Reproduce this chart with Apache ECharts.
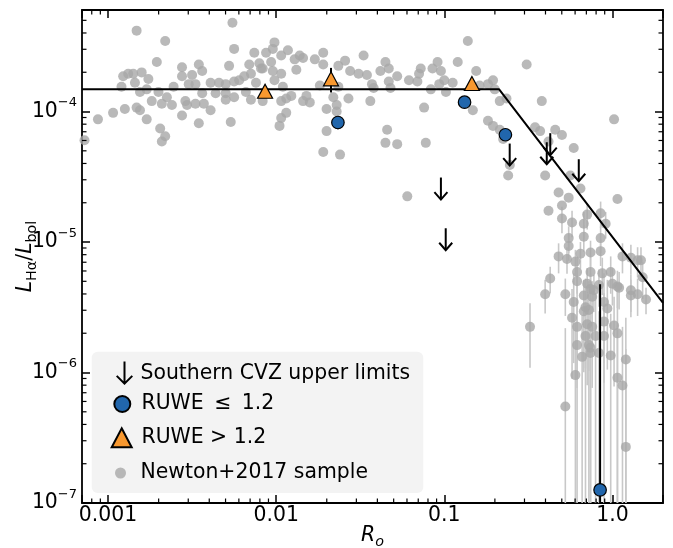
<!DOCTYPE html>
<html><head><meta charset="utf-8">
<script src="https://cdn.jsdelivr.net/npm/echarts@6/dist/echarts.min.js"></script>
<style>html,body{margin:0;padding:0;background:#fff}#c{width:673px;height:548px}</style>
</head><body><div id="c"></div>
<script>
// ---------------- DATA ----------------
// axis ticks
const xTickValues = [0.001, 0.01, 0.1, 1];
const xTickLabels = ['0.001', '0.01', '0.1', '1.0'];
const yTickValues = [1e-7, 1e-6, 1e-5, 1e-4];
const yTickExponents = ['\u22127', '\u22126', '\u22125', '\u22124'];
const xMinorTicks = [8e-4, 9e-4, 0.002, 0.003, 0.004, 0.005, 0.006, 0.007, 0.008, 0.009,
  0.02, 0.03, 0.04, 0.05, 0.06, 0.07, 0.08, 0.09, 0.2, 0.3, 0.4, 0.5, 0.6, 0.7, 0.8, 0.9];
const yMinorTicks = [2e-7, 3e-7, 4e-7, 5e-7, 6e-7, 7e-7, 8e-7, 9e-7,
  2e-6, 3e-6, 4e-6, 5e-6, 6e-6, 7e-6, 8e-6, 9e-6,
  2e-5, 3e-5, 4e-5, 5e-5, 6e-5, 7e-5, 8e-5, 9e-5,
  2e-4, 3e-4, 4e-4, 5e-4];

// Newton+2017 sample (log10 values), points without visible error bars
const newtonLogRo = [
  -2.83,-2.26,-2.66,-2.25,-2.13,-2.71,-2.56,-2.46,-2.28,-2.16,
  -2.91,-2.88,-2.85,-2.80,-2.76,-2.56,-2.50,-2.44,-2.84,-2.92,
  -2.81,-2.77,-2.70,-2.61,-2.52,-2.48,-2.39,-2.34,-2.30,-2.25,
  -2.22,-2.19,-2.15,-2.12,-2.09,-2.10,-2.65,-2.68,-2.62,-2.74,
  -2.54,-2.53,-2.48,-2.44,-2.43,-2.39,-2.36,-2.30,-2.30,-2.25,
  -2.18,-2.15,-2.90,-2.83,-2.81,-2.97,-3.06,-2.77,-2.56,-2.46,
  -2.27,-2.69,-2.66,-2.68,-3.14,
  -2.01,-1.93,-2.02,-2.06,-1.97,-1.86,-1.84,-1.89,-1.77,-1.72,
  -1.48,-2.03,-2.08,-2.02,-1.97,-1.88,-1.72,-1.63,-1.59,-1.56,
  -1.51,-1.46,-1.35,-1.38,-1.33,-1.28,-1.14,-1.15,-1.07,-2.01,
  -1.96,-1.74,-1.63,-1.43,-1.42,-1.33,-1.32,-1.21,-1.16,-1.08,
  -2.08,-1.97,-1.94,-1.91,-1.82,-1.80,-1.84,-1.66,-1.64,-1.57,
  -1.44,-1.70,-1.64,-1.97,-1.94,-1.98,-1.12,-1.70,-1.34,-1.35,
  -1.28,-1.11,-1.72,-1.62,
  -0.86,-0.92,-1.04,-1.02,-0.81,-0.51,-1.00,-0.95,-1.03,-0.79,
  -0.74,-0.71,-0.99,-0.70,-0.67,-0.63,-0.83,-0.42,-0.74,-0.71,
  -0.67,-0.65,-0.46,-0.43,-0.34,-0.30,-0.38,-0.23, 0.01,-0.61,
  -0.62,-0.40,-0.25,-0.19,-0.32,-0.26, 0.03,-0.30,-0.38,-1.22
];
const newtonLogLum = [
  -3.38,-3.32,-3.46,-3.52,-3.55,-3.62,-3.66,-3.64,-3.65,-3.64,
  -3.73,-3.71,-3.71,-3.70,-3.75,-3.73,-3.72,-3.69,-3.78,-3.81,
  -3.85,-3.83,-3.85,-3.81,-3.79,-3.79,-3.78,-3.78,-3.79,-3.77,
  -3.76,-3.73,-3.71,-3.78,-3.67,-3.63,-3.89,-3.94,-3.95,-3.92,
  -3.92,-3.95,-3.94,-3.86,-3.94,-3.99,-3.86,-3.86,-3.91,-3.89,
  -3.85,-3.91,-3.98,-3.97,-3.99,-4.01,-4.06,-4.06,-4.03,-4.09,
  -4.08,-4.13,-4.19,-4.23,-4.22,
  -3.47,-3.53,-3.52,-3.55,-3.57,-3.57,-3.59,-3.60,-3.60,-3.55,
  -3.57,-3.62,-3.67,-3.69,-3.71,-3.68,-3.64,-3.65,-3.61,-3.69,
  -3.71,-3.72,-3.62,-3.69,-3.67,-3.73,-3.67,-3.71,-3.67,-3.76,
  -3.81,-3.80,-3.81,-3.79,-3.82,-3.77,-3.82,-3.76,-3.77,-3.83,
  -3.92,-3.92,-3.90,-3.88,-3.88,-3.93,-3.92,-3.89,-3.95,-3.90,
  -3.92,-3.98,-4.00,-4.05,-4.01,-4.11,-3.97,-4.15,-4.14,-4.24,
  -4.25,-4.24,-4.31,-4.33,
  -3.46,-3.62,-3.62,-3.69,-3.69,-3.64,-3.76,-3.78,-3.79,-3.80,
  -3.79,-3.76,-3.85,-3.83,-3.92,-3.90,-3.99,-3.92,-4.07,-4.11,
  -4.14,-4.21,-4.12,-4.15,-4.14,-4.18,-4.23,-4.28,-4.06,-4.41,
  -4.49,-4.49,-4.49,-4.59,-4.62,-4.66,-4.67,-4.72,-4.76,-4.65
];
// Newton+2017 sample points with visible error bars (log10 values; hi = upper end of the bar)
const newtonBarLogRo = [
  -0.30,-0.24,-0.15,-0.07,-0.17,-0.04,-0.26,-0.17,-0.07,-0.26,
  -0.07,-0.19,-0.13,-0.32,-0.27,-0.22, 0.06, 0.11, 0.15, 0.17,
  -0.21,-0.13,-0.06,-0.01, 0.18,-0.37,-0.21,-0.15,-0.08, 0.00,
   0.03, 0.04,-0.13,-0.11, 0.11,-0.40,-0.28,-0.17,-0.12, 0.11,
   0.15, 0.20,-0.23,-0.05,-0.16,-0.14,-0.17,-0.03,-0.24,-0.49,
  -0.21,-0.15,-0.12,-0.05, 0.01, 0.03,-0.16,-0.10,-0.05,-0.21,
  -0.14,-0.13,-0.18,-0.13,-0.08,-0.01, 0.08,-0.22, 0.03, 0.06,
  -0.28, 0.08
];
const newtonBarLogLum = [
  -4.82,-4.85,-4.79,-4.78,-4.86,-4.86,-4.97,-4.96,-4.97,-5.03,
  -5.07,-5.09,-5.08,-5.11,-5.13,-5.15,-5.11,-5.12,-5.14,-5.14,
  -5.23,-5.23,-5.24,-5.23,-5.27,-5.28,-5.30,-5.32,-5.33,-5.32,
  -5.34,-5.35,-5.36,-5.37,-5.37,-5.40,-5.40,-5.41,-5.42,-5.41,
  -5.40,-5.44,-5.46,-5.46,-5.50,-5.52,-5.53,-5.51,-5.58,-5.65,
  -5.65,-5.63,-5.65,-5.61,-5.64,-5.70,-5.72,-5.72,-5.72,-5.79,
  -5.79,-5.81,-5.88,-5.85,-5.85,-5.87,-5.90,-6.02,-6.04,-6.10,
  -6.26,-6.57
];
const newtonBarLogHi = [
  -4.73,-4.76,-4.70,-4.69,-4.77,-4.77,-4.88,-4.87,-4.88,-4.94,
  -4.98,-5.00,-4.99,-5.01,-5.04,-5.06,-5.01,-5.02,-5.04,-5.04,
  -5.11,-5.11,-5.12,-5.11,-5.15,-5.19,-5.18,-5.20,-5.21,-5.20,
  -5.22,-5.23,-5.24,-5.25,-5.25,-5.29,-5.28,-5.29,-5.30,-5.29,
  -5.28,-5.35,-5.24,-5.24,-5.28,-5.30,-5.31,-5.29,-5.36,-5.47,
  -5.43,-5.41,-5.43,-5.39,-5.42,-5.38,-5.40,-5.40,-5.40,-5.47,
  -5.47,-5.49,-5.56,-5.53,-5.53,-5.55,-5.58,-5.62,-5.64,-5.65,
  -5.66,-5.82
];

// Southern CVZ sample
const blueRo = [0.0233, 0.132, 0.231, 0.845];
const blueLum = [8.24e-5, 1.18e-4, 6.64e-5, 1.26e-7];
const blueLumHi = [9.16e-5, 1.18e-4, 7.08e-5, 4.75e-6];
const orangeRo = [0.00859, 0.0212, 0.146];
const orangeLum = [1.43e-4, 1.78e-4, 1.64e-4];
const orangeLumHi = [1.43e-4, 2.16e-4, 1.64e-4];
const limitRo = [0.0955, 0.102, 0.245, 0.407, 0.427, 0.631];
const limitLum = [2.57e-5, 1.05e-5, 4.68e-5, 4.79e-5, 5.62e-5, 3.55e-5];

// saturation / power-law relation
const fitRo = [7e-4, 0.212, 2];
const fitLum = [1.48e-4, 1.48e-4, 3.42e-6];

// ---------------- CHART ----------------
const X_MIN = 7e-4, X_MAX = 2, Y_MIN = 1e-7, Y_MAX = 6e-4;
const FONT = 'DejaVu Sans';
const FS = 20.4, FS_SMALL = 14.3, FS_SUP = 13;
const NAME_NEWTON = 'Newton+2017 sample';
const NAME_BLUE = 'RUWE \u2009\u2264\u2009 1.2';
const NAME_ORANGE = 'RUWE > 1.2';
const NAME_LIMIT = 'Southern CVZ upper limits';
const arrowPath = 'path://M75,0L95,0L95,196.8L155.9,135.9L170,150L85,235L0,150L14.1,135.9L75,196.8Z';

const pw = v => Math.pow(10, v);
const newtonPts = newtonLogRo.map((v, i) => [pw(v), pw(newtonLogLum[i])])
  .concat(newtonBarLogRo.map((v, i) => [pw(v), pw(newtonBarLogLum[i])]));
const newtonBars = newtonBarLogRo.map((v, i) => [pw(v), pw(newtonBarLogLum[i]), pw(newtonBarLogHi[i])]);
const bluePts = blueRo.map((v, i) => [v, blueLum[i]]);
const blueBars = blueRo.map((v, i) => [v, blueLum[i], blueLumHi[i]]);
const orangePts = orangeRo.map((v, i) => [v, orangeLum[i]]);
const orangeBars = orangeRo.map((v, i) => [v, orangeLum[i], orangeLumHi[i]]);
const limitPts = limitRo.map((v, i) => [v, limitLum[i]]);
const fitPts = fitRo.map((v, i) => [v, fitLum[i]]);

function near(a, b) { return Math.abs(Math.log10(a) - Math.log10(b)) < 1e-6; }
function xFmt(v) { const i = xTickValues.findIndex(t => near(t, v)); return i < 0 ? '' : xTickLabels[i]; }
function yFmt(v) { const i = yTickValues.findIndex(t => near(t, v)); return i < 0 ? '' : '{b|10}{s|' + yTickExponents[i] + '}'; }

function errRender(color, width) {
  return function (params, api) {
    const x = api.value(0), y = api.value(1), hi = api.value(2);
    if (!(hi > y)) return null;
    let lo = 2 * y - hi;
    if (!(lo > Y_MIN)) lo = Y_MIN;
    const top = Math.min(hi, Y_MAX);
    const p1 = api.coord([x, top]);
    const p2 = api.coord([x, lo]);
    return { type: 'line', shape: { x1: p1[0], y1: p1[1], x2: p2[0], y2: p2[1] },
      style: { stroke: color, lineWidth: width } };
  };
}

const axisCommon = {
  type: 'log', logBase: 10,
  axisLine: { show: true, onZero: false, lineStyle: { color: '#000', width: 1.8 } },
  axisTick: { show: true, inside: true, length: 8, lineStyle: { color: '#000', width: 1.5 } },
  minorTick: { show: false },
  splitLine: { show: false },
  minorSplitLine: { show: false }
};

const option = {
  animation: false,
  backgroundColor: '#fff',
  grid: { left: 82, top: 10, width: 581, height: 493, containLabel: false, outerBoundsMode: 'none' },
  xAxis: [
    Object.assign({}, axisCommon, {
      min: X_MIN, max: X_MAX, position: 'bottom',
      axisLabel: { formatter: xFmt, fontSize: FS, fontFamily: FONT, color: '#000', margin: 3 },
      name: '{i|R}{o|o}', nameLocation: 'middle', nameGap: 20, nameMoveOverlap: false,
      nameTextStyle: { color: '#000', fontFamily: FONT, rich: {
        i: { fontSize: FS, fontStyle: 'italic', fontFamily: FONT, color: '#000', lineHeight: 26 },
        o: { fontSize: FS_SMALL, fontStyle: 'italic', fontFamily: FONT, color: '#000', verticalAlign: 'bottom', lineHeight: 14 }
      } }
    }),
    Object.assign({}, axisCommon, {
      min: X_MIN, max: X_MAX, position: 'top', axisLabel: { show: false }
    })
  ],
  yAxis: [
    Object.assign({}, axisCommon, {
      min: Y_MIN, max: Y_MAX, position: 'left',
      axisLabel: { formatter: yFmt, margin: 5, color: '#000', rich: {
        b: { fontSize: FS, fontFamily: FONT, color: '#000', lineHeight: 30 },
        s: { fontSize: FS_SUP, fontFamily: FONT, color: '#000', verticalAlign: 'top', lineHeight: 14 }
      } },
      name: '{i|L}{s|H\u03b1}{n|/}{i|L}{s|bol}', nameLocation: 'middle', nameGap: 43, nameRotate: 90,
      nameMoveOverlap: false,
      nameTextStyle: { color: '#000', fontFamily: FONT, rich: {
        i: { fontSize: FS, fontStyle: 'italic', fontFamily: FONT, color: '#000', lineHeight: 26 },
        n: { fontSize: FS, fontFamily: FONT, color: '#000', lineHeight: 26 },
        s: { fontSize: FS_SMALL, fontFamily: FONT, color: '#000', verticalAlign: 'bottom', lineHeight: 14 }
      } }
    }),
    Object.assign({}, axisCommon, {
      min: Y_MIN, max: Y_MAX, position: 'right', axisLabel: { show: false }
    })
  ],
  graphic: [{
    type: 'rect', z: 30,
    shape: { x: 91.7, y: 351.7, width: 331.6, height: 141.3, r: 6 },
    style: { fill: '#f3f3f3' }
  }],
  legend: [
    { data: [{ name: NAME_LIMIT, icon: arrowPath }], left: 116, top: 357.3, itemWidth: 17, itemHeight: 23.5,
      padding: 0, z: 40, selectedMode: false,
      textStyle: { fontSize: FS, fontFamily: FONT, color: '#000', lineHeight: 24, padding: [0, 0, 8, 2.5] } },
    { data: [{ name: NAME_BLUE, icon: 'circle' }], left: 113.3, top: 392, itemWidth: 16, itemHeight: 16,
      padding: 0, z: 40, selectedMode: false,
      textStyle: { fontSize: FS, fontFamily: FONT, color: '#000', lineHeight: 24, padding: [0, 0, 0, 6.2] } },
    { data: [{ name: NAME_ORANGE, icon: 'triangle' }], left: 110.7, top: 425.8, itemWidth: 20, itemHeight: 19,
      padding: 0, z: 40, selectedMode: false,
      textStyle: { fontSize: FS, fontFamily: FONT, color: '#000', lineHeight: 24, padding: [0, 0, 0, 4.8] } },
    { data: [{ name: NAME_NEWTON, icon: 'circle' }], left: 115, top: 461, itemWidth: 11, itemHeight: 11,
      padding: 0, z: 40, selectedMode: false,
      textStyle: { fontSize: FS, fontFamily: FONT, color: '#000', lineHeight: 24, padding: [0, 0, 0, 9.5] } }
  ],
  series: [
    { type: 'custom', name: 'newton-err', data: newtonBars, encode: { x: 0, y: 1 }, clip: true, z: 1, silent: true,
      renderItem: errRender('#c8c8c8', 1.6) },
    { type: 'scatter', name: NAME_NEWTON, data: newtonPts, symbol: 'circle', symbolSize: 10, z: 2,
      itemStyle: { color: '#a8a8a8', opacity: 0.8 } },
    { type: 'line', name: 'fit', data: fitPts, symbol: 'none', z: 3, silent: true,
      lineStyle: { color: '#000', width: 2 } },
    { type: 'custom', name: 'blue-err', data: blueBars, encode: { x: 0, y: 1 }, clip: true, z: 4, silent: true,
      renderItem: errRender('#000', 2) },
    { type: 'custom', name: 'orange-err', data: orangeBars, encode: { x: 0, y: 1 }, clip: true, z: 4, silent: true,
      renderItem: errRender('#000', 2) },
    { type: 'scatter', name: NAME_BLUE, data: bluePts, symbol: 'circle', symbolSize: 12.5, z: 5,
      itemStyle: { color: '#2166ac', borderColor: '#000', borderWidth: 1.2, opacity: 1 } },
    { type: 'scatter', name: NAME_ORANGE, data: orangePts, symbol: 'triangle', symbolSize: [15, 14], z: 5,
      itemStyle: { color: '#f8982f', borderColor: '#000', borderWidth: 1.2, opacity: 1 } },
    { type: 'custom', name: NAME_LIMIT, data: limitPts, encode: { x: 0, y: 1 }, z: 6,
      itemStyle: { color: '#000' },
      renderItem: function (params, api) {
        const p = api.coord([api.value(0), api.value(1)]);
        const x = p[0], y = p[1];
        return { type: 'group', children: [
          { type: 'line', shape: { x1: x, y1: y - 11, x2: x, y2: y + 10.5 }, style: { stroke: '#000', lineWidth: 2 } },
          { type: 'polyline', shape: { points: [[x - 6.5, y + 3.5], [x, y + 11], [x + 6.5, y + 3.5]] },
            style: { stroke: '#000', lineWidth: 2, fill: null } }
        ] };
      } },
    { type: 'custom', name: 'x-minor', data: xMinorTicks.map(v => [v, Y_MIN]), encode: { x: 0, y: 1 }, z: 8, silent: true,
      renderItem: function (params, api) {
        const cs = params.coordSys;
        const x = api.coord([api.value(0), Y_MIN])[0];
        const b = cs.y + cs.height, t = cs.y;
        const st = { stroke: '#000', lineWidth: 1.2 };
        return { type: 'group', children: [
          { type: 'line', shape: { x1: x, y1: b, x2: x, y2: b - 4.5 }, style: st },
          { type: 'line', shape: { x1: x, y1: t, x2: x, y2: t + 4.5 }, style: st }
        ] };
      } },
    { type: 'custom', name: 'y-minor', data: yMinorTicks.map(v => [X_MIN, v]), encode: { x: 0, y: 1 }, z: 8, silent: true,
      renderItem: function (params, api) {
        const cs = params.coordSys;
        const y = api.coord([X_MIN, api.value(1)])[1];
        const l = cs.x, r = cs.x + cs.width;
        const st = { stroke: '#000', lineWidth: 1.2 };
        return { type: 'group', children: [
          { type: 'line', shape: { x1: l, y1: y, x2: l + 4.5, y2: y }, style: st },
          { type: 'line', shape: { x1: r, y1: y, x2: r - 4.5, y2: y }, style: st }
        ] };
      } }
  ]
};

const chart = echarts.init(document.getElementById('c'), null, { renderer: 'canvas' });
chart.setOption(option);
</script>
</body></html>
